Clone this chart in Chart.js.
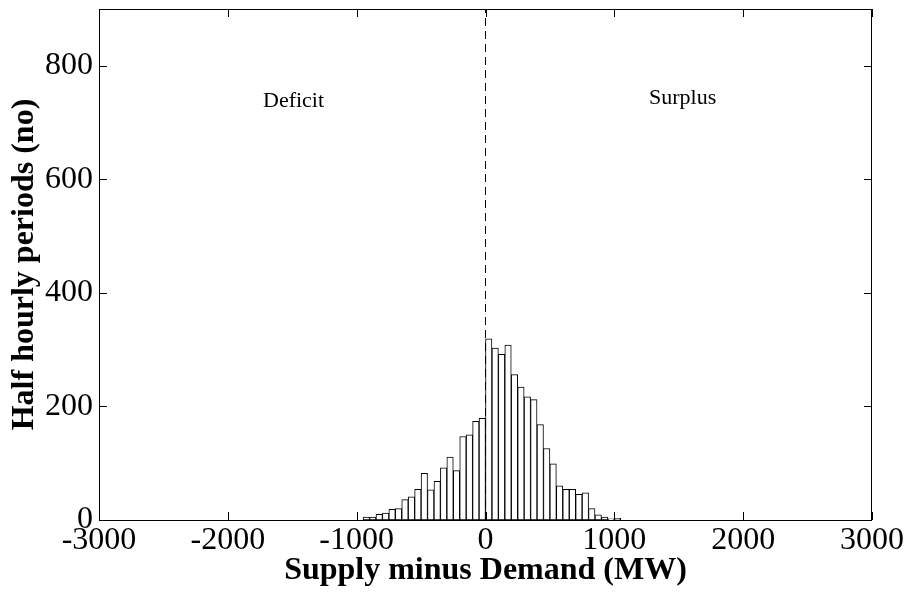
<!DOCTYPE html>
<html>
<head>
<meta charset="utf-8">
<script src="https://cdn.jsdelivr.net/npm/chart.js@4.4.1/dist/chart.umd.min.js"></script>
<style>
  html, body { margin: 0; padding: 0; background: #fff; }
  #wrap { width: 908px; height: 592px; position: relative; }
</style>
</head>
<body>
<div id="wrap"><canvas id="c"></canvas></div>
<script>
// Histogram bins (left edges, MW) and bin width
const binLeftEdges = [-950,-900,-850,-800,-750,-700,-650,-600,-550,-500,-450,-400,-350,-300,-250,-200,-150,-100,-50,
  0,50,100,150,200,250,300,350,400,450,500,550,600,650,700,750,800,850,900,950,1000];
const binWidth = 50;
// Counts of half-hourly periods per bin
const counts = [5,5,10,12,19,20,36,41,54,82,53,68,92,111,87,147,150,174,179,
  319,303,292,308,256,234,217,212,168,126,99,60,54,54,45,48,20,9,5,2,3];
const xTickValues = [-3000,-2000,-1000,0,1000,2000,3000];
const yTickValues = [0,200,400,600,800];
const xRange = [-3000, 3000];
const yRange = [0, 900];
const dividerX = [0, 0];
const dividerY = [0, 900];
const annotationLabels = ['Deficit', 'Surplus'];
const annotationX = [-1490, 1530];
const annotationY = [728, 733];
const xTitle = 'Supply minus Demand (MW)';
const yTitle = 'Half hourly periods (no)';

const barData = binLeftEdges.map((e, i) => ({ x: e + binWidth / 2, y: counts[i] }));
const lineData = dividerX.map((x, i) => ({ x: x, y: dividerY[i] }));

const FONT = "'Liberation Serif', 'Times New Roman', serif";

const framePlugin = {
  id: 'frame',
  afterDatasetsDraw(chart) {
    const { ctx, chartArea: a, scales } = chart;
    ctx.save();
    ctx.strokeStyle = '#000';
    ctx.lineWidth = 1;
    ctx.strokeRect(a.left + 0.5, a.top + 0.5, a.right - a.left - 1, a.bottom - a.top);
    const tl = 8;
    ctx.beginPath();
    scales.x.ticks.forEach(t => {
      const px = Math.round(scales.x.getPixelForValue(t.value)) + 0.5;
      ctx.moveTo(px, a.bottom); ctx.lineTo(px, a.bottom - tl);
      ctx.moveTo(px, a.top); ctx.lineTo(px, a.top + tl);
    });
    scales.y.ticks.forEach(t => {
      const py = Math.round(scales.y.getPixelForValue(t.value)) + 0.5;
      ctx.moveTo(a.left, py); ctx.lineTo(a.left + tl, py);
      ctx.moveTo(a.right, py); ctx.lineTo(a.right - tl, py);
    });
    ctx.stroke();
    ctx.fillStyle = '#000';
    ctx.font = "22px " + FONT;
    ctx.textAlign = 'center';
    ctx.textBaseline = 'alphabetic';
    annotationLabels.forEach((s, i) => {
      ctx.fillText(s, scales.x.getPixelForValue(annotationX[i]), scales.y.getPixelForValue(annotationY[i]));
    });
    ctx.restore();
  }
};

new Chart(document.getElementById('c'), {
  type: 'bar',
  data: {
    datasets: [
      {
        type: 'line',
        data: lineData,
        borderColor: '#000',
        borderWidth: 1,
        borderDash: [8, 5],
        pointRadius: 0,
        fill: false,
        order: 0
      },
      {
        type: 'bar',
        data: barData,
        backgroundColor: '#fff',
        borderColor: '#000',
        borderWidth: 1,
        borderSkipped: false,
        barPercentage: 1,
        categoryPercentage: 1,
        order: 1
      }
    ]
  },
  options: {
    responsive: true,
    maintainAspectRatio: false,
    animation: false,
    layout: { padding: { top: 9, right: 36, left: 0, bottom: 0 } },
    plugins: { legend: { display: false }, tooltip: { enabled: false } },
    scales: {
      x: {
        type: 'linear',
        min: xRange[0], max: xRange[1],
        offset: false,
        grid: { display: false, drawTicks: false },
        border: { display: false },
        afterBuildTicks: s => { s.ticks = xTickValues.map(v => ({ value: v })); },
        afterFit: s => { s.height = 72; s.paddingLeft = 0; s.paddingRight = 0; },
        ticks: {
          color: '#000', padding: 1, maxRotation: 0, autoSkip: false,
          font: { family: FONT, size: 32 },
          callback: v => String(v)
        },
        title: {
          display: true, text: xTitle, color: '#000',
          font: { family: FONT, size: 32, weight: 'bold' },
          padding: { top: 0, bottom: 2 }
        }
      },
      y: {
        type: 'linear',
        min: yRange[0], max: yRange[1],
        grid: { display: false, drawTicks: false },
        border: { display: false },
        afterBuildTicks: s => { s.ticks = yTickValues.map(v => ({ value: v })); },
        afterFit: s => { s.width = 99; s.paddingTop = 0; s.paddingBottom = 0; },
        ticks: {
          color: '#000', padding: 6, autoSkip: false,
          font: { family: FONT, size: 32 },
          callback: v => String(v)
        },
        title: {
          display: true, text: yTitle, color: '#000',
          font: { family: FONT, size: 32, weight: 'bold' },
          padding: { top: 6, bottom: 0 }
        }
      }
    }
  },
  plugins: [framePlugin]
});
</script>
</body>
</html>
